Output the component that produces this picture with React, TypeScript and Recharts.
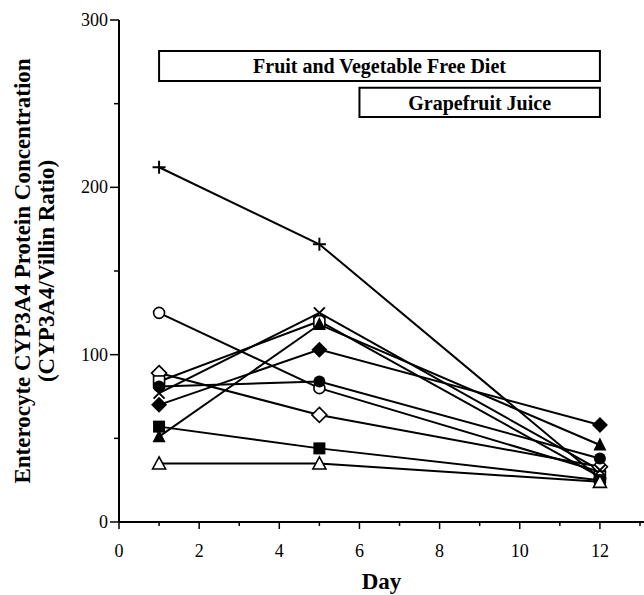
import React from 'react';
import { LineChart, Line, XAxis, YAxis, ReferenceArea } from 'recharts';

const days = [1, 5, 12];

const plusVals = [212, 166, 26];
const openCircleVals = [125, 80, 30];
const openDiamondVals = [89, 64, 33];
const openSquareVals = [84, 120, 27];
const filledCircleVals = [81, 84, 38];
const crossVals = [77, 125, 31];
const filledDiamondVals = [70, 103, 58];
const filledSquareVals = [57, 44, 25];
const filledTriangleVals = [51, 118, 46];
const openTriangleVals = [35, 35, 24];

const xTicks = [0, 1, 2, 3, 4, 5, 6, 7, 8, 9, 10, 11, 12, 13];
const yTicks = [0, 50, 100, 150, 200, 250, 300];

const dietLabel = 'Fruit and Vegetable Free Diet';
const juiceLabel = 'Grapefruit Juice';

const serif = '"Liberation Serif", "Times New Roman", serif';

const series = [
  { key: 'plus', vals: plusVals, marker: 'plus' },
  { key: 'openCircle', vals: openCircleVals, marker: 'openCircle' },
  { key: 'openDiamond', vals: openDiamondVals, marker: 'openDiamond' },
  { key: 'openSquare', vals: openSquareVals, marker: 'openSquare' },
  { key: 'filledCircle', vals: filledCircleVals, marker: 'filledCircle' },
  { key: 'cross', vals: crossVals, marker: 'cross' },
  { key: 'filledDiamond', vals: filledDiamondVals, marker: 'filledDiamond' },
  { key: 'filledSquare', vals: filledSquareVals, marker: 'filledSquare' },
  { key: 'filledTriangle', vals: filledTriangleVals, marker: 'filledTriangle' },
  { key: 'openTriangle', vals: openTriangleVals, marker: 'openTriangle' },
];

const chartData = days.map((day, i) => {
  const row: any = { day };
  series.forEach((s) => {
    row[s.key] = s.vals[i];
  });
  return row;
});

const makeDot = (marker: string) => (props: any) => {
  const { cx, cy, index } = props;
  if (cx == null || cy == null) return <g key={index} />;
  const k = `${marker}-${index}`;
  switch (marker) {
    case 'plus':
      return (
        <g key={k} stroke="#000" strokeWidth={2}>
          <line x1={cx - 6.5} y1={cy} x2={cx + 6.5} y2={cy} />
          <line x1={cx} y1={cy - 6.5} x2={cx} y2={cy + 6.5} />
        </g>
      );
    case 'cross':
      return (
        <g key={k} stroke="#000" strokeWidth={2}>
          <line x1={cx - 5.5} y1={cy - 5.5} x2={cx + 5.5} y2={cy + 5.5} />
          <line x1={cx - 5.5} y1={cy + 5.5} x2={cx + 5.5} y2={cy - 5.5} />
        </g>
      );
    case 'openCircle':
      return <circle key={k} cx={cx} cy={cy} r={5.5} fill="#fff" stroke="#000" strokeWidth={1.6} />;
    case 'filledCircle':
      return <circle key={k} cx={cx} cy={cy} r={6} fill="#000" />;
    case 'openSquare':
      return <rect key={k} x={cx - 5.5} y={cy - 5.5} width={11} height={11} fill="#fff" stroke="#000" strokeWidth={1.6} />;
    case 'filledSquare':
      return <rect key={k} x={cx - 6} y={cy - 6} width={12} height={12} fill="#000" />;
    case 'openDiamond':
      return (
        <polygon
          key={k}
          points={`${cx},${cy - 7.5} ${cx + 7.5},${cy} ${cx},${cy + 7.5} ${cx - 7.5},${cy}`}
          fill="#fff"
          stroke="#000"
          strokeWidth={1.6}
        />
      );
    case 'filledDiamond':
      return (
        <polygon
          key={k}
          points={`${cx},${cy - 8} ${cx + 8},${cy} ${cx},${cy + 8} ${cx - 8},${cy}`}
          fill="#000"
        />
      );
    case 'filledTriangle':
      return (
        <polygon key={k} points={`${cx},${cy - 7.5} ${cx + 6.5},${cy + 5.5} ${cx - 6.5},${cy + 5.5}`} fill="#000" />
      );
    case 'openTriangle':
      return (
        <polygon
          key={k}
          points={`${cx},${cy - 6.5} ${cx + 6.5},${cy + 5.5} ${cx - 6.5},${cy + 5.5}`}
          fill="#fff"
          stroke="#000"
          strokeWidth={1.6}
        />
      );
    default:
      return <g key={k} />;
  }
};

const XTick = (props: any) => {
  const { x, y, payload } = props;
  const major = payload.value % 2 === 0;
  return (
    <g>
      <line x1={x} y1={y} x2={x} y2={y + (major ? 7 : 4)} stroke="#000" strokeWidth={1.5} />
      {major && (
        <text x={x} y={y + 35} textAnchor="middle" fontFamily={serif} fontSize={18} fill="#000">
          {payload.value}
        </text>
      )}
    </g>
  );
};

const YTick = (props: any) => {
  const { x, y, payload } = props;
  const major = payload.value % 100 === 0;
  return (
    <g>
      <line x1={x - (major ? 9 : 5)} y1={y} x2={x} y2={y} stroke="#000" strokeWidth={1.5} />
      {major && (
        <text x={x - 11} y={y + 6} textAnchor="end" fontFamily={serif} fontSize={18} fill="#000">
          {payload.value}
        </text>
      )}
    </g>
  );
};

const YTitle = () => (
  <g>
    <text
      transform="translate(30, 271) rotate(-90)"
      textAnchor="middle"
      fontFamily={serif}
      fontWeight="bold"
      fontSize={23}
      fill="#000"
    >
      Enterocyte CYP3A4 Protein Concentration
    </text>
    <text
      transform="translate(54, 271) rotate(-90)"
      textAnchor="middle"
      fontFamily={serif}
      fontWeight="bold"
      fontSize={23}
      fill="#000"
    >
      (CYP3A4/Villin Ratio)
    </text>
  </g>
);

const boxText = { fontFamily: serif, fontWeight: 'bold', fontSize: 20, fill: '#000' };

export default function App() {
  return (
    <div style={{ position: 'absolute', left: 0, top: 0, background: '#fff' }}>
      <LineChart width={644} height={595} data={chartData} margin={{ top: 20, right: 0, bottom: 0, left: 0 }}>
        <XAxis
          dataKey="day"
          type="number"
          domain={[0, 13.1]}
          ticks={xTicks}
          interval={0}
          tick={<XTick />}
          tickLine={false}
          tickSize={0}
          tickMargin={0}
          height={73}
          axisLine={{ stroke: '#000', strokeWidth: 2 }}
          allowDataOverflow
          label={{
            value: 'Day',
            position: 'insideBottom',
            offset: 6,
            style: { fontFamily: serif, fontWeight: 'bold', fontSize: 23, fill: '#000' },
          }}
        />
        <YAxis
          type="number"
          domain={[0, 300]}
          ticks={yTicks}
          interval={0}
          tick={<YTick />}
          tickLine={false}
          tickSize={0}
          tickMargin={0}
          width={119}
          axisLine={{ stroke: '#000', strokeWidth: 2 }}
          label={{ content: () => <YTitle /> }}
        />
        <ReferenceArea
          x1={1}
          x2={12}
          y1={263.5}
          y2={281.5}
          fill="#fff"
          fillOpacity={1}
          stroke="#000"
          strokeWidth={2}
          label={{ value: dietLabel, position: 'center', style: boxText }}
        />
        <ReferenceArea
          x1={6}
          x2={12}
          y1={242}
          y2={259.5}
          fill="#fff"
          fillOpacity={1}
          stroke="#000"
          strokeWidth={2}
          label={{ value: juiceLabel, position: 'center', style: boxText }}
        />
        {series.map((s) => (
          <Line
            key={s.key}
            dataKey={s.key}
            type="linear"
            stroke="#000"
            strokeWidth={2}
            dot={makeDot(s.marker)}
            activeDot={false}
            isAnimationActive={false}
          />
        ))}
      </LineChart>
    </div>
  );
}
